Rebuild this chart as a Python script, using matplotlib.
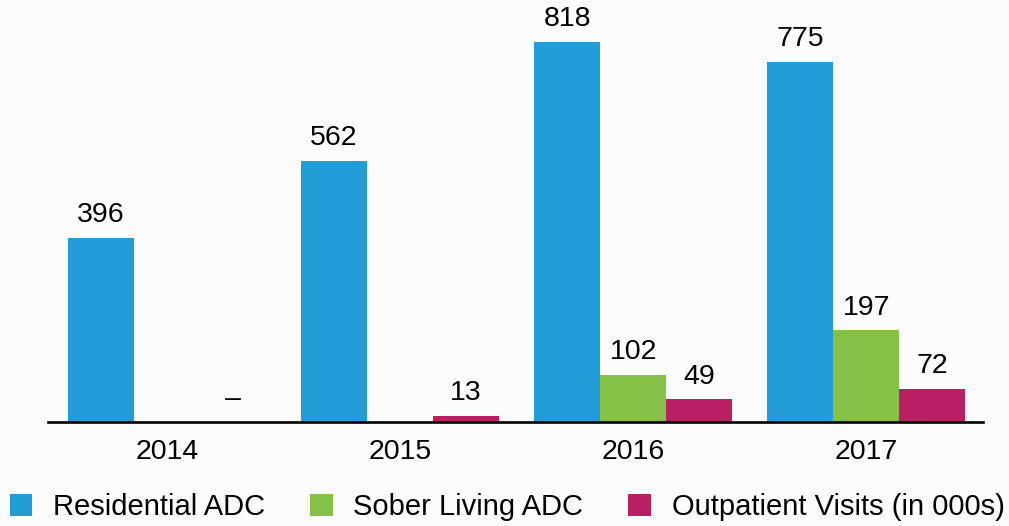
import numpy as np
import matplotlib
matplotlib.use("Agg")
import matplotlib.pyplot as plt
from matplotlib.patches import Patch

# data
years = ["2014", "2015", "2016", "2017"]
residential = [396, 562, 818, 775]
sober_living = [0, 0, 102, 197]
outpatient = [0, 13, 49, 72]

residential_labels = ["396", "562", "818", "775"]
sober_labels = ["", "", "102", "197"]
outpatient_labels = ["\u2013", "13", "49", "72"]

series_names = ["Residential ADC", "Sober Living ADC", "Outpatient Visits (in 000s)"]
colors = ["#239DD8", "#84C146", "#B91F62"]

plt.rcParams["font.family"] = ["Liberation Sans", "DejaVu Sans"]

fig = plt.figure(figsize=(10.09, 5.26), dpi=100, facecolor="#fcfcfc")
ax = fig.add_axes([0.0476, 0.1977, 0.9267, 0.8023])
ax.set_facecolor("#fcfcfc")

x = np.arange(len(years))
width = 0.283

series = [residential, sober_living, outpatient]
labels = [residential_labels, sober_labels, outpatient_labels]

for i, (vals, labs, color) in enumerate(zip(series, labels, colors)):
    offset = (i - 1) * width
    bars = ax.bar(x + offset, vals, width, color=color, linewidth=0)
    ax.bar_label(bars, labels=labs, padding=7, fontsize=20.5)

ax.set_xlim(-0.51, 3.5)
ax.set_ylim(0, 908)
ax.set_xticks(x)
ax.set_xticklabels(years, fontsize=20.5)
ax.tick_params(axis="x", length=0, pad=12)
ax.set_yticks([])

for side in ["top", "right", "left"]:
    ax.spines[side].set_visible(False)
ax.spines["bottom"].set_linewidth(1.9)
ax.spines["bottom"].set_color("black")

handles = [Patch(facecolor=c, edgecolor="none") for c in colors]
fig.legend(handles, series_names, loc="center", bbox_to_anchor=(0.5025, 0.036),
           ncol=3, frameon=False, fontsize=21, handlelength=0.78, handleheight=0.78,
           handletextpad=0.7, columnspacing=1.55, borderpad=0, borderaxespad=0)

plt.savefig("out.png", dpi=100, facecolor=fig.get_facecolor())
